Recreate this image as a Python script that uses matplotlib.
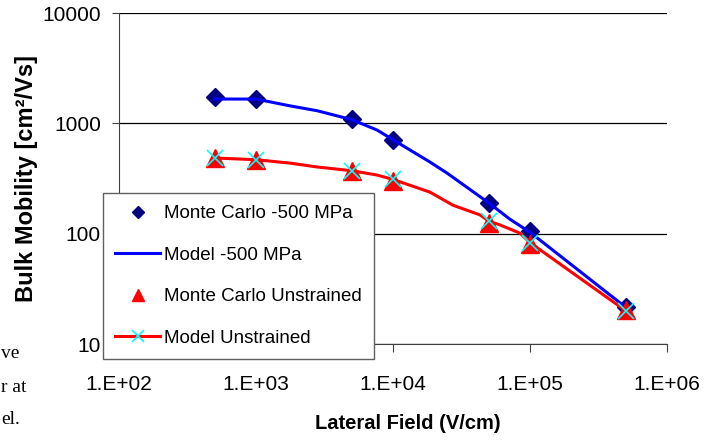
import matplotlib
matplotlib.use("Agg")
import matplotlib.pyplot as plt
from matplotlib.ticker import NullLocator

plt.rcParams['font.family'] = ['Liberation Sans', 'DejaVu Sans']

# Monte Carlo points
field_mc = [5e2, 1e3, 5e3, 1e4, 5e4, 1e5, 5e5]
mc_strained = [1720, 1660, 1085, 706, 190, 105, 21.5]
mc_unstrained = [485, 462, 372, 303, 126, 80.5, 20.3]

# model curves
field_model_s = [5e2, 1e3, 1770, 2800, 5e3, 7640, 1e4, 18600, 24800, 5e4, 71500, 1e5, 5e5]
model_strained = [1660, 1660, 1440, 1300, 1080, 870, 710, 446, 354, 190, 135, 103, 21.5]
field_model_u = [5e2, 1e3, 1770, 2800, 5e3, 7640, 1e4, 18600, 27400, 43100, 5e4, 60400, 84500, 1e5, 5e5]
model_unstrained = [485, 468, 436, 402, 372, 340, 310, 238, 181, 148, 130, 120, 101, 83, 20]
model_u_marks = [0, 1, 4, 6, 10, 13, 14]

x_ticks = [1e2, 1e3, 1e4, 1e5, 1e6]
x_tick_labels = ['1.E+02', '1.E+03', '1.E+04', '1.E+05', '1.E+06']
y_ticks = [10, 100, 1000, 10000]
y_tick_labels = ['10', '100', '1000', '10000']

fig = plt.figure(figsize=(7.16, 4.41), dpi=100)
ax = fig.add_axes([119/716, 1-344/441, 548/716, 331/441])

ax.plot(field_mc, mc_strained, linestyle='none', marker='D', markersize=9,
        color='#000080', label='Monte Carlo -500 MPa', zorder=3)
ax.plot(field_model_s, model_strained, color='#0000FF', lw=2.2,
        label='Model -500 MPa', zorder=3)
ax.plot(field_mc, mc_unstrained, linestyle='none', marker='^', markersize=13,
        color='#FF0000', label='Monte Carlo Unstrained', zorder=4)
ax.plot(field_model_u, model_unstrained, color='#FF0000', lw=2.2,
        marker='x', markevery=model_u_marks, markersize=12, markeredgewidth=1.2,
        markeredgecolor='#00FFFF', label='Model Unstrained', zorder=5)

ax.set_xscale('log')
ax.set_yscale('log')
ax.set_xlim(1e2, 1e6)
ax.set_ylim(10, 10000)
ax.set_xticks(x_ticks)
ax.set_xticklabels(x_tick_labels)
ax.set_yticks(y_ticks)
ax.set_yticklabels(y_tick_labels)
ax.xaxis.set_minor_locator(NullLocator())
ax.yaxis.set_minor_locator(NullLocator())
ax.tick_params(axis='x', length=5.5, pad=17, labelsize=15, color='#404040')
ax.tick_params(axis='y', length=5, pad=8, labelsize=15, color='#404040')

for s in ['top', 'right']:
    ax.spines[s].set_visible(False)
for s in ['left', 'bottom']:
    ax.spines[s].set_color('#404040')
ax.grid(axis='y', color='black', lw=0.9)
ax.set_axisbelow(True)

ax.set_xlabel('Lateral Field (V/cm)', fontsize=14.5, fontweight='bold')
ax.xaxis.set_label_coords((408-119)/548, -(414-344)/331)
ax.set_ylabel('Bulk Mobility [cm²/Vs]', fontsize=17, fontweight='bold')
ax.yaxis.set_label_coords(-(119-38)/548, 0.5)

leg = ax.legend(loc='upper left', bbox_to_anchor=(103/716, 1-193/441),
                bbox_transform=fig.transFigure, fontsize=13.5, markerscale=0.7,
                numpoints=1, handlelength=2.4, handletextpad=0.2,
                labelspacing=1.3, borderpad=0.65, borderaxespad=0,
                fancybox=False, framealpha=1, edgecolor='#606060')
leg.get_frame().set_linewidth(1.0)
leg.set_zorder(10)

# fragments of the surrounding page text
fig.text(1/716, 1-353/441, 've', ha='left', va='center', fontsize=14, family='Liberation Serif')
fig.text(1/716, 1-388/441, 'r at', ha='left', va='center', fontsize=14, family='Liberation Serif')
fig.text(1/716, 1-420/441, 'el.', ha='left', va='center', fontsize=14, family='Liberation Serif')

fig.savefig('out.png', dpi=100)
